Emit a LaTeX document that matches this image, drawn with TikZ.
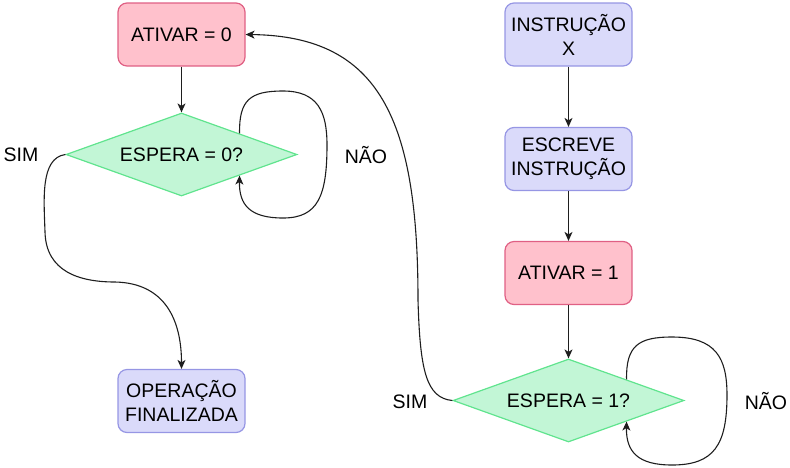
\documentclass[tikz,border=0pt]{standalone}
\usepackage{fontspec}
\setmainfont{Liberation Sans}
\usetikzlibrary{shapes.geometric,arrows.meta}
\definecolor{pinkfill}{RGB}{255,193,204}
\definecolor{pinkline}{RGB}{224,96,132}
\definecolor{bluefill}{RGB}{218,218,250}
\definecolor{blueline}{RGB}{150,150,228}
\definecolor{greenfill}{RGB}{194,246,214}
\definecolor{greenline}{RGB}{96,228,142}
\definecolor{edgecol}{RGB}{30,30,30}
\tikzset{
  base/.style={font=\fontsize{19.5}{24}\selectfont, text=black, align=center, line width=1.2pt},
  redbox/.style={base, draw=pinkline, fill=pinkfill, rounded corners=9pt, minimum width=127pt, minimum height=63pt, inner sep=0pt},
  bluebox/.style={base, draw=blueline, fill=bluefill, rounded corners=9pt, minimum width=127pt, minimum height=63pt, inner sep=0pt},
  decision/.style={base, diamond, aspect=2.78, draw=greenline, fill=greenfill, minimum width=231pt, minimum height=83pt, inner sep=0pt},
  lbl/.style={font=\fontsize{19.5}{24}\selectfont, text=black},
  arr/.style={draw=edgecol, line width=1.1pt, -{Stealth[length=9pt,width=8pt,inset=2.5pt]}}
}
\begin{document}
\begin{tikzpicture}[x=1pt,y=-1pt]
\useasboundingbox (0,0) rectangle (790,467);
% left column
\node[redbox] (a0) at (181.5,34.5) {ATIVAR = 0};
\node[decision] (d0) at (181.5,154.5) {ESPERA = 0?};
\node[bluebox] (fin) at (181.5,401) {OPERAÇÃO\\FINALIZADA};
% right column
\node[bluebox] (ix) at (568.5,34.5) {INSTRUÇÃO\\X};
\node[bluebox] (es) at (568.5,159) {ESCREVE\\INSTRUÇÃO};
\node[redbox] (a1) at (568.5,273) {ATIVAR = 1};
\node[decision] (d1) at (568.5,400.5) {ESPERA = 1?};
% labels
\node[lbl] (sim0) at (21,155) {SIM};
\node[lbl] (nao0) at (366,155) {NÃO};
\node[lbl] (sim1) at (410,402) {SIM};
\node[lbl] (nao1) at (766,401) {NÃO};
% coordinates for curves
\coordinate (m0a) at (45,232);
\coordinate (m0b) at (115,282);
\coordinate (m1) at (418,300);
\coordinate (l0t) at (283,91);
\coordinate (l0b) at (283,218);
\coordinate (l1t) at (672,337);
\coordinate (l1b) at (672,465);
% straight connectors
\draw[arr] (a0.south) -- (d0.north);
\draw[arr] (ix.south) -- (es.north);
\draw[arr] (es.south) -- (a1.north);
\draw[arr] (a1.south) -- (d1.north);
% SIM left
\draw[arr] (d0.west) .. controls (40,158) and (44,200) .. (m0a)
  .. controls (46,272) and (80,282) .. (m0b)
  .. controls (165,283) and (181.5,320) .. (fin.north);
% loop left
\draw[arr] (d0.north east) .. controls (239,100) and (250,91) .. (l0t)
  .. controls (318,91) and (327,112) .. (327,145)
  .. controls (327,196) and (318,218) .. (l0b)
  .. controls (250,218) and (239,205) .. (d0.south east);
% SIM right
\draw[arr] (d1.west) .. controls (426,398) and (420,370) .. (m1)
  .. controls (418,120) and (380,36) .. (a0.east);
% loop right
\draw[arr] (d1.north east) .. controls (626,346) and (638,337) .. (l1t)
  .. controls (716,337) and (727,358) .. (727,395)
  .. controls (727,445) and (714,465) .. (l1b)
  .. controls (638,465) and (626,452) .. (d1.south east);
\end{tikzpicture}
\end{document}
